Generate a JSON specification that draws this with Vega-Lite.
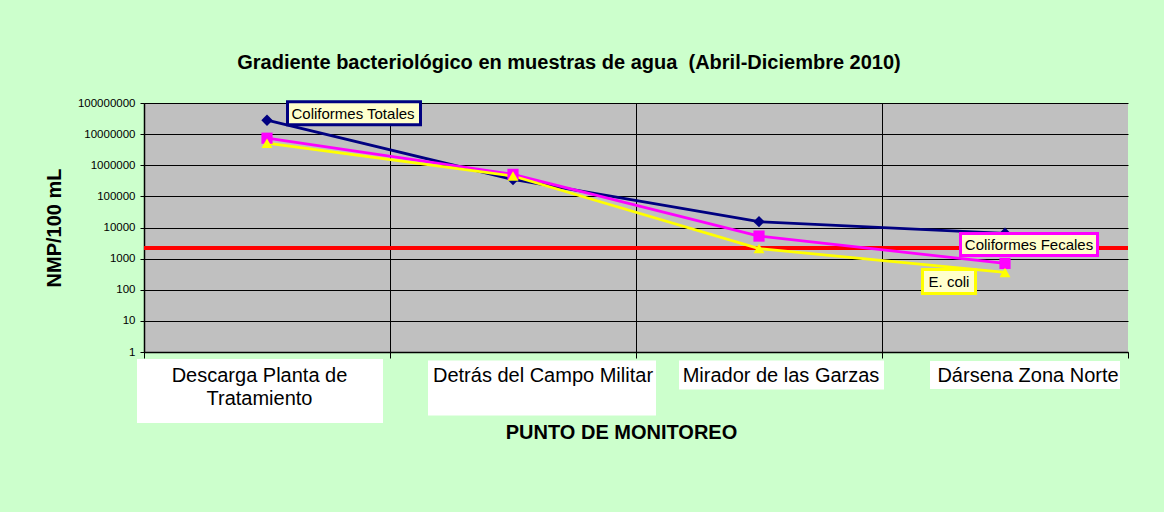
{
  "$schema": "https://vega.github.io/schema/vega-lite/v6.json",
  "width": 984,
  "height": 249,
  "autosize": {"type": "none"},
  "padding": {"left": 144, "top": 103, "right": 36, "bottom": 160},
  "background": "#CCFFCC",
  "title": {
    "text": "Gradiente bacteriológico en muestras de agua \u00a0(Abril-Diciembre 2010)",
    "font": "Liberation Sans",
    "fontSize": 20,
    "fontWeight": "bold",
    "color": "#000000",
    "anchor": "middle",
    "frame": "group",
    "baseline": "alphabetic",
    "dx": -67,
    "offset": 7
  },
  "config": {
    "view": {"fill": "#C0C0C0", "stroke": null},
    "font": "Liberation Sans",
    "axis": {"labelFont": "Liberation Sans", "titleFont": "Liberation Sans", "labelColor": "#000000", "titleColor": "#000000"}
  },
  "datasets": {
    "series": [
      {"serie": "Coliformes Totales", "punto": "Descarga Planta de Tratamiento", "valor": 28000000},
      {"serie": "Coliformes Totales", "punto": "Detrás del Campo Militar", "valor": 350000},
      {"serie": "Coliformes Totales", "punto": "Mirador de las Garzas", "valor": 15400},
      {"serie": "Coliformes Totales", "punto": "Dársena Zona Norte", "valor": 6500},
      {"serie": "Coliformes Fecales", "punto": "Descarga Planta de Tratamiento", "valor": 7400000},
      {"serie": "Coliformes Fecales", "punto": "Detrás del Campo Militar", "valor": 510000},
      {"serie": "Coliformes Fecales", "punto": "Mirador de las Garzas", "valor": 5300},
      {"serie": "Coliformes Fecales", "punto": "Dársena Zona Norte", "valor": 700},
      {"serie": "E. coli", "punto": "Descarga Planta de Tratamiento", "valor": 5100000},
      {"serie": "E. coli", "punto": "Detrás del Campo Militar", "valor": 450000},
      {"serie": "E. coli", "punto": "Mirador de las Garzas", "valor": 2100},
      {"serie": "E. coli", "punto": "Dársena Zona Norte", "valor": 360}
    ],
    "limite": [{"valor": 2200}],
    "puntos": [
      {"punto": "Descarga Planta de Tratamiento"},
      {"punto": "Detrás del Campo Militar"},
      {"punto": "Mirador de las Garzas"},
      {"punto": "Dársena Zona Norte"}
    ]
  },
  "layer": [
    {
      "data": {"name": "limite"},
      "mark": {"type": "rule", "color": "#FF0000", "strokeWidth": 4},
      "encoding": {
        "y": {"field": "valor", "type": "quantitative", "scale": {"type": "log", "domain": [1, 100000000]}}
      }
    },
    {
      "data": {"name": "series"},
      "mark": {"type": "line", "strokeWidth": 2.75},
      "encoding": {
        "x": {
          "field": "punto", "type": "nominal",
          "scale": {"type": "band", "domain": ["Descarga Planta de Tratamiento", "Detrás del Campo Militar", "Mirador de las Garzas", "Dársena Zona Norte"], "paddingInner": 0, "paddingOuter": 0},
          "axis": {
            "title": "PUNTO DE MONITOREO",
            "titleFontSize": 20, "titleFontWeight": "bold",
            "titleX": 477, "titleY": 86, "titleAlign": "center", "titleBaseline": "alphabetic",
            "labels": false,
            "tickBand": "extent",
            "ticks": true, "tickSize": 6, "tickColor": "#000000", "tickWidth": 1,
            "domainColor": "#000000", "domainWidth": 1.5,
            "grid": true, "gridColor": "#000000", "gridWidth": 1,
            "gridOpacity": {"condition": {"test": "datum.value === 'Dársena Zona Norte'", "value": 0}, "value": 1}
          }
        },
        "y": {
          "field": "valor", "type": "quantitative",
          "scale": {"type": "log", "domain": [1, 100000000]},
          "axis": {
            "title": "NMP/100 mL",
            "titleFontSize": 20, "titleFontWeight": "bold",
            "titleX": -90, "titleY": 124.5, "titleAngle": -90, "titleAlign": "center", "titleBaseline": "middle",
            "values": [1, 10, 100, 1000, 10000, 100000, 1000000, 10000000, 100000000],
            "format": "d",
            "labelFontSize": 11.5, "labelPadding": 5,
            "tickSize": 4, "tickColor": "#000000",
            "domainColor": "#000000", "domainWidth": 1.5,
            "grid": true, "gridColor": "#000000", "gridWidth": 1, "gridOpacity": 1
          }
        },
        "color": {
          "field": "serie", "type": "nominal",
          "scale": {"domain": ["Coliformes Totales", "Coliformes Fecales", "E. coli"], "range": ["#000080", "#FF00FF", "#FFFF00"]},
          "legend": null
        }
      }
    },
    {
      "data": {"name": "series"},
      "mark": {"type": "point", "filled": true, "opacity": 1},
      "encoding": {
        "x": {"field": "punto", "type": "nominal", "scale": {"type": "band"}},
        "y": {"field": "valor", "type": "quantitative", "scale": {"type": "log"}},
        "color": {"field": "serie", "type": "nominal", "legend": null},
        "shape": {
          "field": "serie", "type": "nominal",
          "scale": {"domain": ["Coliformes Totales", "Coliformes Fecales", "E. coli"], "range": ["diamond", "square", "triangle-up"]},
          "legend": null
        },
        "size": {
          "field": "serie", "type": "nominal",
          "scale": {"domain": ["Coliformes Totales", "Coliformes Fecales", "E. coli"], "range": [130, 120, 150]},
          "legend": null
        }
      }
    },
    {
      "data": {"name": "series"},
      "transform": [{"filter": "datum.serie === 'Coliformes Totales' && datum.punto === 'Descarga Planta de Tratamiento'"}],
      "mark": {"type": "point", "shape": "M-1,-0.173L1,-0.173L1,0.173L-1,0.173Z", "size": 17689, "filled": false, "fill": "#FFFFCC", "fillOpacity": 1, "stroke": "#000080", "strokeWidth": 3, "opacity": 1, "xOffset": 87, "yOffset": -7},
      "encoding": {
        "x": {"field": "punto", "type": "nominal", "scale": {"type": "band"}},
        "y": {"field": "valor", "type": "quantitative", "scale": {"type": "log"}}
      }
    },
    {
      "data": {"name": "series"},
      "transform": [{"filter": "datum.serie === 'Coliformes Totales' && datum.punto === 'Descarga Planta de Tratamiento'"}],
      "mark": {"type": "text", "font": "Liberation Sans", "fontSize": 15, "color": "#000000", "align": "center", "baseline": "middle", "dx": 86, "dy": -6},
      "encoding": {
        "x": {"field": "punto", "type": "nominal", "scale": {"type": "band"}},
        "y": {"field": "valor", "type": "quantitative", "scale": {"type": "log"}},
        "text": {"field": "serie"}
      }
    },
    {
      "data": {"name": "series"},
      "transform": [{"filter": "datum.serie === 'Coliformes Fecales' && datum.punto === 'Dársena Zona Norte'"}],
      "mark": {"type": "point", "shape": "M-1,-0.161L1,-0.161L1,0.161L-1,0.161Z", "size": 18769, "filled": false, "fill": "#FFFFCC", "fillOpacity": 1, "stroke": "#FF00FF", "strokeWidth": 3, "opacity": 1, "xOffset": 24, "yOffset": -19},
      "encoding": {
        "x": {"field": "punto", "type": "nominal", "scale": {"type": "band"}},
        "y": {"field": "valor", "type": "quantitative", "scale": {"type": "log"}}
      }
    },
    {
      "data": {"name": "series"},
      "transform": [{"filter": "datum.serie === 'Coliformes Fecales' && datum.punto === 'Dársena Zona Norte'"}],
      "mark": {"type": "text", "font": "Liberation Sans", "fontSize": 15, "color": "#000000", "align": "center", "baseline": "middle", "dx": 24, "dy": -18},
      "encoding": {
        "x": {"field": "punto", "type": "nominal", "scale": {"type": "band"}},
        "y": {"field": "valor", "type": "quantitative", "scale": {"type": "log"}},
        "text": {"field": "serie"}
      }
    },
    {
      "data": {"name": "series"},
      "transform": [{"filter": "datum.serie === 'E. coli' && datum.punto === 'Dársena Zona Norte'"}],
      "mark": {"type": "point", "shape": "M-1,-0.453L1,-0.453L1,0.453L-1,0.453Z", "size": 2809, "filled": false, "fill": "#FFFFCC", "fillOpacity": 1, "stroke": "#FFFF00", "strokeWidth": 3, "opacity": 1, "xOffset": -56, "yOffset": 9},
      "encoding": {
        "x": {"field": "punto", "type": "nominal", "scale": {"type": "band"}},
        "y": {"field": "valor", "type": "quantitative", "scale": {"type": "log"}}
      }
    },
    {
      "data": {"name": "series"},
      "transform": [{"filter": "datum.serie === 'E. coli' && datum.punto === 'Dársena Zona Norte'"}],
      "mark": {"type": "text", "font": "Liberation Sans", "fontSize": 15, "color": "#000000", "align": "center", "baseline": "middle", "dx": -56, "dy": 10},
      "encoding": {
        "x": {"field": "punto", "type": "nominal", "scale": {"type": "band"}},
        "y": {"field": "valor", "type": "quantitative", "scale": {"type": "log"}},
        "text": {"field": "serie"}
      }
    },
    {
      "data": {"name": "puntos"},
      "transform": [{"filter": "datum.punto === 'Descarga Planta de Tratamiento'"}],
      "mark": {"type": "point", "shape": "M-1,-0.26L1,-0.26L1,0.26L-1,0.26Z", "size": 60516, "filled": true, "color": "#FFFFFF", "opacity": 1, "xOffset": -7, "yOffset": 39},
      "encoding": {
        "x": {"field": "punto", "type": "nominal", "scale": {"type": "band"}},
        "y": {"datum": 1, "type": "quantitative", "scale": {"type": "log"}}
      }
    },
    {
      "data": {"name": "puntos"},
      "transform": [{"filter": "datum.punto === 'Descarga Planta de Tratamiento'"}],
      "mark": {"type": "text", "font": "Liberation Sans", "fontSize": 20, "color": "#000000", "align": "center", "baseline": "alphabetic", "lineHeight": 23, "dx": -7.5, "dy": 30},
      "encoding": {
        "x": {"field": "punto", "type": "nominal", "scale": {"type": "band"}},
        "y": {"datum": 1, "type": "quantitative", "scale": {"type": "log"}},
        "text": {"value": ["Descarga Planta de", "Tratamiento"]}
      }
    },
    {
      "data": {"name": "puntos"},
      "transform": [{"filter": "datum.punto === 'Detrás del Campo Militar'"}],
      "mark": {"type": "point", "shape": "M-1,-0.241L1,-0.241L1,0.241L-1,0.241Z", "size": 51984, "filled": true, "color": "#FFFFFF", "opacity": 1, "xOffset": 29, "yOffset": 36},
      "encoding": {
        "x": {"field": "punto", "type": "nominal", "scale": {"type": "band"}},
        "y": {"datum": 1, "type": "quantitative", "scale": {"type": "log"}}
      }
    },
    {
      "data": {"name": "puntos"},
      "transform": [{"filter": "datum.punto === 'Detrás del Campo Militar'"}],
      "mark": {"type": "text", "font": "Liberation Sans", "fontSize": 20, "color": "#000000", "align": "center", "baseline": "alphabetic", "dx": 30, "dy": 29.5},
      "encoding": {
        "x": {"field": "punto", "type": "nominal", "scale": {"type": "band"}},
        "y": {"datum": 1, "type": "quantitative", "scale": {"type": "log"}},
        "text": {"field": "punto"}
      }
    },
    {
      "data": {"name": "puntos"},
      "transform": [{"filter": "datum.punto === 'Mirador de las Garzas'"}],
      "mark": {"type": "point", "shape": "M-1,-0.1415L1,-0.1415L1,0.1415L-1,0.1415Z", "size": 42025, "filled": true, "color": "#FFFFFF", "opacity": 1, "xOffset": 22.5, "yOffset": 23},
      "encoding": {
        "x": {"field": "punto", "type": "nominal", "scale": {"type": "band"}},
        "y": {"datum": 1, "type": "quantitative", "scale": {"type": "log"}}
      }
    },
    {
      "data": {"name": "puntos"},
      "transform": [{"filter": "datum.punto === 'Mirador de las Garzas'"}],
      "mark": {"type": "text", "font": "Liberation Sans", "fontSize": 20, "color": "#000000", "align": "center", "baseline": "alphabetic", "dx": 22, "dy": 29.5},
      "encoding": {
        "x": {"field": "punto", "type": "nominal", "scale": {"type": "band"}},
        "y": {"datum": 1, "type": "quantitative", "scale": {"type": "log"}},
        "text": {"field": "punto"}
      }
    },
    {
      "data": {"name": "puntos"},
      "transform": [{"filter": "datum.punto === 'Dársena Zona Norte'"}],
      "mark": {"type": "point", "shape": "M-1,-0.147L1,-0.147L1,0.147L-1,0.147Z", "size": 36100, "filled": true, "color": "#FFFFFF", "opacity": 1, "xOffset": 20, "yOffset": 23},
      "encoding": {
        "x": {"field": "punto", "type": "nominal", "scale": {"type": "band"}},
        "y": {"datum": 1, "type": "quantitative", "scale": {"type": "log"}}
      }
    },
    {
      "data": {"name": "puntos"},
      "transform": [{"filter": "datum.punto === 'Dársena Zona Norte'"}],
      "mark": {"type": "text", "font": "Liberation Sans", "fontSize": 20, "color": "#000000", "align": "center", "baseline": "alphabetic", "dx": 23, "dy": 29.5},
      "encoding": {
        "x": {"field": "punto", "type": "nominal", "scale": {"type": "band"}},
        "y": {"datum": 1, "type": "quantitative", "scale": {"type": "log"}},
        "text": {"field": "punto"}
      }
    }
  ]
}
